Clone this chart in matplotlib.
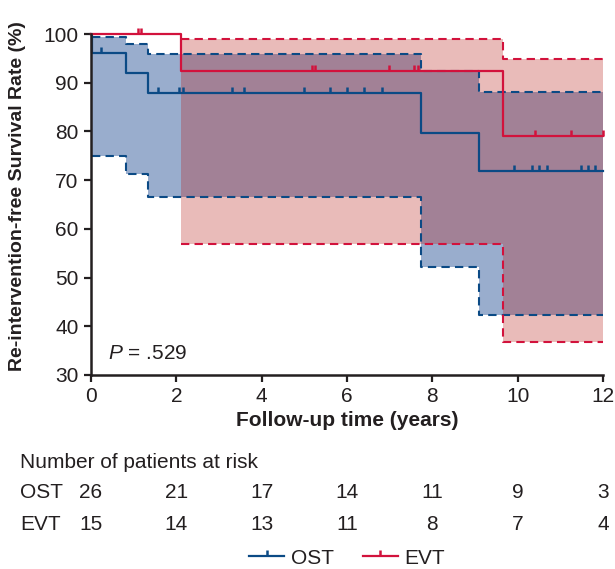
import numpy as np
import matplotlib
matplotlib.use('Agg')
import matplotlib.pyplot as plt
from matplotlib.path import Path
from matplotlib.lines import Line2D
from matplotlib.transforms import blended_transform_factory

plt.rcParams['font.family'] = ['Liberation Sans', 'DejaVu Sans']
plt.rcParams['mathtext.fontset'] = 'custom'
plt.rcParams['mathtext.it'] = 'Liberation Sans:italic'
plt.rcParams['mathtext.rm'] = 'Liberation Sans'

# Kaplan-Meier steps
ost_t = [0, 0.03, 0.81, 1.33, 7.73, 9.09, 12]
ost_surv = [100, 96.1, 92.0, 87.8, 79.7, 71.9, 71.9]
ost_upper = [100, 99.3, 97.9, 95.9, 92.4, 88.0, 88.0]
ost_lower = [100, 75.0, 71.2, 66.6, 52.1, 42.3, 42.3]
ost_censor = [0.23, 1.58, 2.07, 2.16, 3.31, 3.59, 5.0, 5.59, 6.01, 6.41, 6.83,
              9.92, 10.34, 10.51, 10.68, 11.49, 11.65, 11.82]

evt_t = [0, 2.1, 9.66, 12]
evt_surv = [100, 92.4, 79.1, 79.1]
evt_upper = [100, 99.0, 94.8, 94.8]
evt_lower = [100, 56.8, 36.7, 36.7]
evt_censor = [1.09, 1.18, 5.18, 5.25, 6.99, 7.58, 7.67, 10.41, 11.26, 12.0]

risk_times = [0, 2, 4, 6, 8, 10, 12]
ost_risk = [26, 21, 17, 14, 11, 9, 3]
evt_risk = [15, 14, 13, 11, 8, 7, 4]

BLUE = '#0B4A85'
RED = '#D2123C'
TXT = '#231F20'
FS = 15

tick_marker = Path([(0, 0), (0, 1)])


def step_value(times, values, x):
    idx = np.searchsorted(times, x, side='right') - 1
    return np.asarray(values)[idx]


fig = plt.figure(figsize=(6.15, 5.69), dpi=100)
ax = fig.add_axes([91 / 615, 1 - 375 / 569, 512 / 615, 341 / 569])

# confidence bands
ax.fill_between(ost_t[1:], ost_lower[1:], ost_upper[1:], step='post',
                color='#003484', alpha=0.4, lw=0)
ax.fill_between(evt_t[1:], evt_lower[1:], evt_upper[1:], step='post',
                color='#B81E18', alpha=0.3, lw=0)

for t, lo, hi, c in [(ost_t, ost_lower, ost_upper, BLUE),
                     (evt_t, evt_lower, evt_upper, RED)]:
    ax.step(t[1:], lo[1:], where='post', color=c, lw=1.5, ls=(0, (4, 2.5)),
            clip_on=False)
    ax.step(t[1:], hi[1:], where='post', color=c, lw=1.5, ls=(0, (4, 2.5)),
            clip_on=False)

# survival curves
ax.step(ost_t, ost_surv, where='post', color=BLUE, lw=1.6, clip_on=False)
ax.step(evt_t, evt_surv, where='post', color=RED, lw=1.6, clip_on=False)

ax.plot(ost_censor, step_value(ost_t, ost_surv, ost_censor), ls='none',
        marker=tick_marker, ms=9, mew=1.8, color=BLUE, clip_on=False)
ax.plot(evt_censor, step_value(evt_t, evt_surv, evt_censor), ls='none',
        marker=tick_marker, ms=9, mew=1.8, color=RED, clip_on=False)

ax.set_xlim(0, 12)
ax.set_ylim(30, 100)
ax.set_xticks(range(0, 13, 2))
ax.set_yticks(range(30, 101, 10))
for s in ['top', 'right']:
    ax.spines[s].set_visible(False)
for s in ['left', 'bottom']:
    ax.spines[s].set_linewidth(1.8)
    ax.spines[s].set_color(TXT)
ax.tick_params(direction='out', length=5, width=1.6, colors=TXT,
               labelsize=FS, pad=4)

ax.set_xlabel('Follow-up time (years)', fontsize=FS, fontweight='bold',
              color=TXT, labelpad=3)
fig.text(18 / 615, 1 - 196 / 569, 'Re-intervention-free Survival Rate (%)',
         rotation=90, ha='center', va='center', fontsize=14,
         fontweight='bold', color=TXT)

ax.text(0.4, 34.5, '$P$ = .529', fontsize=FS, color=TXT, ha='left',
        va='center')

# number at risk table
fig.text(20 / 615, 1 - 463 / 569, 'Number of patients at risk', fontsize=FS,
         color=TXT, ha='left', va='center')
tr = blended_transform_factory(ax.transData, fig.transFigure)
for name, counts, ypx in [('OST', ost_risk, 493), ('EVT', evt_risk, 524)]:
    fig.text(20 / 615, 1 - ypx / 569, name, fontsize=FS, color=TXT,
             ha='left', va='center')
    for t, n in zip(risk_times, counts):
        ax.text(t, 1 - ypx / 569, str(n), transform=tr, fontsize=FS,
                color=TXT, ha='center', va='center', clip_on=False)

handles = [Line2D([], [], color=BLUE, lw=1.6, marker=tick_marker, ms=9,
                  mew=1.8),
           Line2D([], [], color=RED, lw=1.6, marker=tick_marker, ms=9,
                  mew=1.8)]
leg = fig.legend(handles, ['OST', 'EVT'], loc='center',
                 bbox_to_anchor=(347 / 615, 1 - 558 / 569), ncol=2,
                 frameon=False, fontsize=FS, handlelength=1.7,
                 handletextpad=0.3, columnspacing=1.4, numpoints=1)
for t in leg.get_texts():
    t.set_color(TXT)

fig.savefig('out.png', dpi=100)
